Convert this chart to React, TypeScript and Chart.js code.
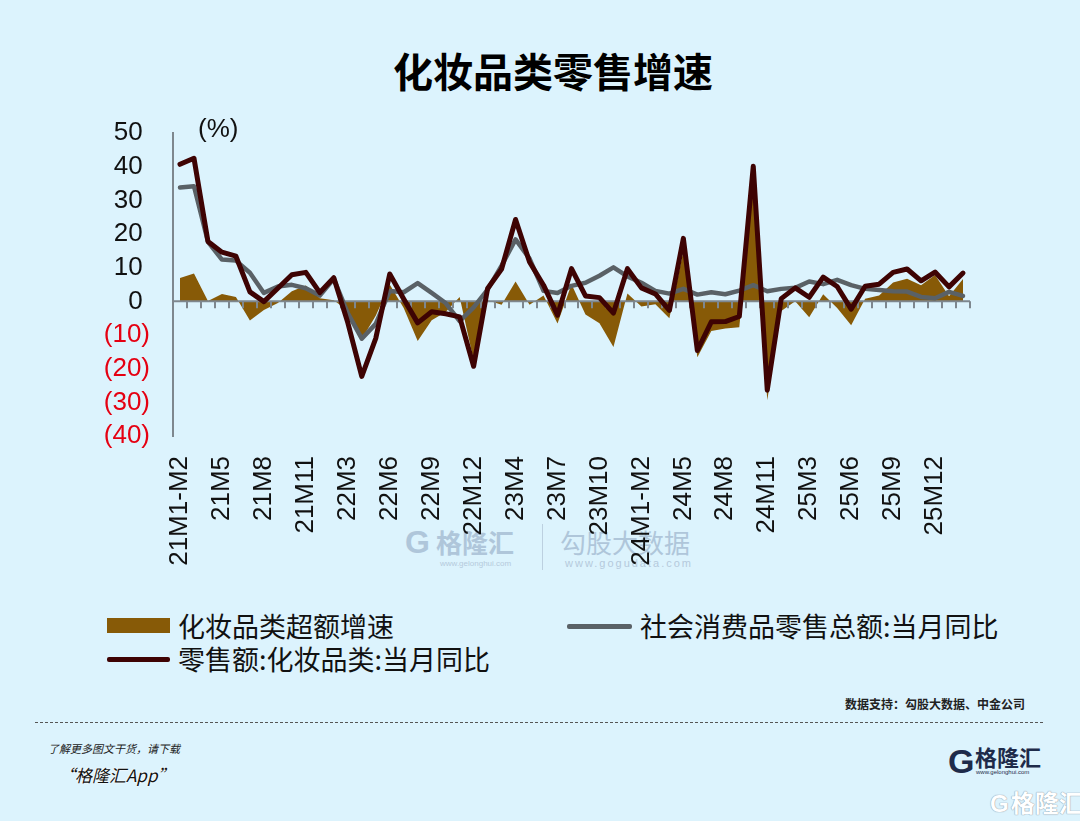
import React, { useEffect, useRef } from "react";
import { Chart, registerables } from "chart.js";

Chart.register(...registerables);

// Monthly periods (Jan–Feb reported together)
const categories = [
  "21M1-M2", "21M3", "21M4", "21M5", "21M6", "21M7", "21M8", "21M9", "21M10", "21M11", "21M12",
  "22M1-M2", "22M3", "22M4", "22M5", "22M6", "22M7", "22M8", "22M9", "22M10", "22M11", "22M12",
  "23M1-M2", "23M3", "23M4", "23M5", "23M6", "23M7", "23M8", "23M9", "23M10", "23M11", "23M12",
  "24M1-M2", "24M3", "24M4", "24M5", "24M6", "24M7", "24M8", "24M9", "24M10", "24M11", "24M12",
  "25M1-M2", "25M3", "25M4", "25M5", "25M6", "25M7", "25M8", "25M9", "25M10", "25M11", "25M12",
  "26M1-M2", "26M3",
];

// 化妆品类超额增速 (pct pts)
const excessGrowth = [
  6.9, 8.3, 0.1, 2.2, 1.3, -5.7, -2.6, -0.5, 3.0, 4.7, 0.9,
  0.3, -2.8, -11.2, -4.3, 5.0, -2.0, -11.8, -5.6, -3.2, 1.3, -17.5,
  0.3, -1.0, 5.9, -1.0, 1.7, -6.6, 5.1, -3.9, -6.5, -13.6, 2.3,
  -1.5, -0.9, -5.0, 15.0, -16.6, -8.8, -8.1, -7.7, 35.3, -29.4, -2.9,
  0.0, -4.7, 2.1, -2.0, -7.1, 0.8, 1.7, 5.6, 6.7, 4.8, 7.8,
  1.5, 6.6,
];

// 社会消费品零售总额:当月同比 (%)
const totalRetailYoY = [
  33.8, 34.2, 17.7, 12.4, 12.1, 8.5, 2.5, 4.4, 4.9, 3.9, 1.7,
  6.7, -3.5, -11.1, -6.7, 3.1, 2.7, 5.4, 2.5, -0.5, -5.9, -1.8,
  3.5, 10.6, 18.4, 12.7, 3.1, 2.5, 4.6, 5.5, 7.6, 10.1, 7.4,
  5.5, 3.1, 2.3, 3.7, 2.0, 2.7, 2.1, 3.2, 4.8, 3.0, 3.7,
  4.0, 5.9, 5.1, 6.4, 4.8, 3.7, 3.4, 3.0, 2.9, 1.3, 0.9,
  2.8, 1.6,
];

// 零售额:化妆品类:当月同比 (%)
const cosmeticsYoY = [
  40.7, 42.5, 17.8, 14.6, 13.4, 2.8, -0.1, 3.9, 7.9, 8.6, 2.6,
  7.0, -6.3, -22.3, -11.0, 8.1, 0.7, -6.4, -3.1, -3.7, -4.6, -19.3,
  3.8, 9.6, 24.3, 11.7, 4.8, -4.1, 9.7, 1.6, 1.1, -3.5, 9.7,
  4.0, 2.2, -2.7, 18.7, -14.6, -6.1, -6.0, -4.5, 40.1, -26.4, 0.8,
  4.0, 1.2, 7.2, 4.4, -2.3, 4.5, 5.1, 8.6, 9.6, 6.1, 8.7,
  4.3, 8.4,
];

const yMin = -40;
const yMax = 50;
const yStep = 10;
const labelEvery = 3;

const BG = "#DCF3FD";
const BROWN = "#875A07";
const GREY = "#5A6166";
const MAROON = "#3E0303";
const AXIS = "#7E878E";
const RED = "#E50012";
const LATIN = "'Liberation Sans', Arial, sans-serif";
const CJK = "'Noto Sans CJK SC', 'Noto Sans', sans-serif";

// Horizontal axis at zero with short ticks on category boundaries,
// drawn right after the shaded area so the lines sit on top of it.
const zeroAxisPlugin = {
  id: "zeroAxis",
  afterDatasetDraw(chart: any, args: any) {
    if (args.index !== 0) return;
    const { ctx, chartArea, scales } = chart;
    const y0 = scales.y.getPixelForValue(0);
    const xs = scales.x;
    const half = (xs.getPixelForValue(1) - xs.getPixelForValue(0)) / 2;
    ctx.save();
    ctx.strokeStyle = AXIS;
    ctx.lineWidth = 2;
    ctx.beginPath();
    ctx.moveTo(chartArea.left, y0);
    ctx.lineTo(chartArea.right, y0);
    ctx.stroke();
    ctx.beginPath();
    for (let i = 1; i <= categories.length; i++) {
      const px = Math.round(xs.getPixelForValue(i) - half);
      ctx.moveTo(px, y0);
      ctx.lineTo(px, y0 + 7);
    }
    ctx.stroke();
    ctx.restore();
  },
};

function RetailChart() {
  const ref = useRef<HTMLCanvasElement | null>(null);

  useEffect(() => {
    if (!ref.current) return;
    const chart = new Chart(ref.current, {
      type: "line",
      data: {
        labels: categories,
        datasets: [
          {
            label: "化妆品类超额增速",
            data: excessGrowth,
            fill: "origin",
            backgroundColor: BROWN,
            borderColor: "rgba(0,0,0,0)",
            borderWidth: 0,
            pointRadius: 0,
            tension: 0,
            order: 3,
          },
          {
            label: "社会消费品零售总额:当月同比",
            data: totalRetailYoY,
            fill: false,
            borderColor: GREY,
            borderWidth: 4.5,
            borderJoinStyle: "round",
            borderCapStyle: "round",
            pointRadius: 0,
            tension: 0,
            order: 2,
          },
          {
            label: "零售额:化妆品类:当月同比",
            data: cosmeticsYoY,
            fill: false,
            borderColor: MAROON,
            borderWidth: 5,
            borderJoinStyle: "round",
            borderCapStyle: "round",
            pointRadius: 0,
            tension: 0,
            order: 1,
          },
        ],
      },
      options: {
        responsive: false,
        animation: false,
        devicePixelRatio: 1,
        layout: { padding: { left: 0, right: 110, top: 33, bottom: 0 } },
        plugins: {
          legend: { display: false },
          tooltip: { enabled: false },
        },
        scales: {
          x: {
            type: "category",
            offset: true,
            grid: { display: false, drawTicks: false },
            border: { display: false },
            ticks: {
              autoSkip: false,
              minRotation: 90,
              maxRotation: 90,
              padding: 20,
              color: "#111",
              font: { family: LATIN, size: 26 },
              callback: (_v: any, i: number) => (i % labelEvery === 0 ? categories[i] : ""),
            },
            afterFit: (s: any) => {
              s.height = 144;
            },
          },
          y: {
            min: yMin,
            max: yMax,
            grid: { display: false, drawTicks: false },
            border: { display: true, color: AXIS, width: 2 },
            ticks: {
              stepSize: yStep,
              autoSkip: false,
              padding: 23,
              font: { family: LATIN, size: 26 },
              color: (c: any) => (c.tick && c.tick.value < 0 ? RED : "#111"),
              callback: (v: any) => (v < 0 ? `(${-v})` : `${v} `),
            },
            afterFit: (s: any) => {
              s.width = 173;
              s.paddingTop = 0;
              s.paddingBottom = 0;
            },
          },
        },
      },
      plugins: [zeroAxisPlugin],
    });
    return () => chart.destroy();
  }, []);

  return (
    <canvas
      ref={ref}
      width={1080}
      height={480}
      style={{ position: "absolute", left: 0, top: 100, width: 1080, height: 480 }}
    />
  );
}

const abs = (s: React.CSSProperties): React.CSSProperties => ({ position: "absolute", whiteSpace: "nowrap", ...s });

export default function App() {
  return (
    <div
      style={{
        position: "fixed",
        left: 0,
        top: 0,
        width: 1080,
        height: 821,
        background: BG,
        overflow: "hidden",
        fontFamily: CJK,
      }}
    >
      {/* watermark behind the plot */}
      <div style={abs({ left: 405, top: 527, color: "#AFC6DA", fontSize: 26, lineHeight: "30px", fontWeight: 700 })}>
        <span style={{ fontFamily: LATIN, fontWeight: 900, fontSize: 32, marginRight: 6 }}>G</span>格隆汇
      </div>
      <div style={abs({ left: 440, top: 559, color: "#B5CADC", fontSize: 8, fontFamily: LATIN })}>www.gelonghui.com</div>
      <div style={abs({ left: 542, top: 524, width: 1, height: 46, background: "#BCD0E0" })} />
      <div style={abs({ left: 560, top: 527, color: "#AFC6DA", fontSize: 26, lineHeight: "30px" })}>勾股大数据</div>
      <div style={abs({ left: 565, top: 557, color: "#B5CADC", fontSize: 11, fontFamily: LATIN, letterSpacing: 2 })}>
        www.gogudata.com
      </div>

      <RetailChart />

      <div style={abs({ left: 393, top: 48, fontSize: 40, lineHeight: "44px", fontWeight: 700, color: "#000" })}>
        化妆品类零售增速
      </div>
      <div style={abs({ left: 198, top: 113, fontSize: 26, lineHeight: "30px", fontFamily: LATIN, color: "#111" })}>(%)</div>

      {/* legend */}
      <div style={abs({ left: 107, top: 618, width: 63, height: 15, background: BROWN })} />
      <div style={abs({ left: 178, top: 610, fontSize: 27, lineHeight: "32px", color: "#111" })}>化妆品类超额增速</div>
      <div style={abs({ left: 567, top: 624, width: 65, height: 5, background: GREY, borderRadius: 2 })} />
      <div style={abs({ left: 640, top: 610, fontSize: 27, lineHeight: "32px", color: "#111" })}>社会消费品零售总额:当月同比</div>
      <div style={abs({ left: 107, top: 657, width: 63, height: 5, background: MAROON, borderRadius: 2 })} />
      <div style={abs({ left: 178, top: 643, fontSize: 27, lineHeight: "32px", color: "#111" })}>零售额:化妆品类:当月同比</div>

      {/* footer */}
      <div style={abs({ right: 55, top: 696, fontSize: 12, lineHeight: "16px", fontWeight: 700, color: "#222" })}>
        数据支持：勾股大数据、中金公司
      </div>
      <div style={abs({ left: 35, top: 722, width: 1008, borderTop: "1px dashed #555" })} />
      <div style={abs({ left: 48, top: 741, fontSize: 11, lineHeight: "14px", fontStyle: "italic", color: "#222" })}>
        了解更多图文干货，请下载
      </div>
      <div
        style={abs({
          left: 58,
          top: 764,
          fontSize: 17,
          lineHeight: "22px",
          fontStyle: "italic",
          color: "#111",
          textShadow: "0 0 2px #fff, 0 0 2px #fff",
        })}
      >
        “格隆汇App”
      </div>
      <div style={abs({ left: 948, top: 744, color: "#1E2B4A", fontFamily: LATIN, fontWeight: 900, fontSize: 34, lineHeight: "34px" })}>
        G
      </div>
      <div style={abs({ left: 975, top: 743, color: "#1E2B4A", fontSize: 22, lineHeight: "26px", fontWeight: 700 })}>格隆汇</div>
      <div style={abs({ left: 976, top: 769, color: "#1E2B4A", fontSize: 6, fontFamily: LATIN })}>www.gelonghui.com</div>
      <div
        style={abs({
          left: 990,
          top: 788,
          color: "#fff",
          fontSize: 24,
          lineHeight: "28px",
          fontWeight: 700,
          textShadow: "0 0 1px #8a9aa8, 0 0 1px #8a9aa8",
        })}
      >
        <span style={{ fontFamily: LATIN, fontWeight: 900, marginRight: 2 }}>G</span>格隆汇
      </div>
    </div>
  );
}
